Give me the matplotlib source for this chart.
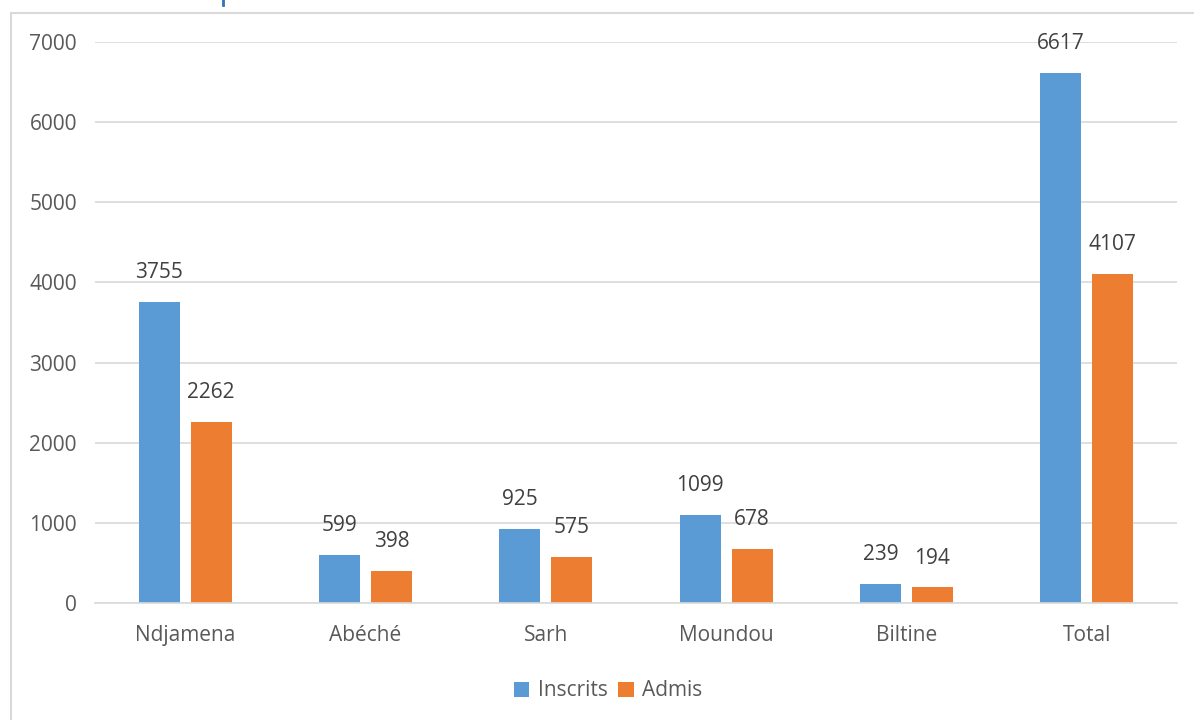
import matplotlib
matplotlib.use("Agg")
import matplotlib.pyplot as plt
from matplotlib.patches import Rectangle
from matplotlib.lines import Line2D
import numpy as np

categories = ["Ndjamena", "Abéché", "Sarh", "Moundou", "Biltine", "Total"]
inscrits = [3755, 599, 925, 1099, 239, 6617]
admis = [2262, 398, 575, 678, 194, 4107]
yticks = [0, 1000, 2000, 3000, 4000, 5000, 6000, 7000]

BLUE = "#5B9BD5"
ORANGE = "#ED7D31"
TEXT = "#595959"
GRID = "#D9D9D9"
FS = 15

plt.rcParams["font.family"] = ["Open Sans", "DejaVu Sans"]

fig = plt.figure(figsize=(11.94, 7.2), dpi=100)
ax = fig.add_axes([95 / 1194, 1 - 603 / 720, (1177 - 95) / 1194, (603 - 42) / 720])

# chart frame (extends past the right and bottom edges)
fig.add_artist(Rectangle((10.5 / 1194, -0.2), 1.5, 1 - 12.5 / 720 + 0.2,
                         transform=fig.transFigure, fill=False,
                         edgecolor=GRID, linewidth=1.5))
# stroke of the heading above the frame
fig.add_artist(Line2D([222.5 / 1194, 222.5 / 1194], [1 - 5 / 720, 1.0],
                      transform=fig.transFigure, color="#2E75B6", linewidth=2))

x = np.arange(len(categories))
w = 0.227
off = 0.144
b1 = ax.bar(x - off, inscrits, w, color=BLUE, label="Inscrits", zorder=3)
b2 = ax.bar(x + off, admis, w, color=ORANGE, label="Admis", zorder=3)

for bars, vals in ((b1, inscrits), (b2, admis)):
    for r, v in zip(bars, vals):
        ax.annotate(str(v), (r.get_x() + r.get_width() / 2, v),
                    xytext=(0, 21), textcoords="offset points",
                    ha="center", va="center", fontsize=FS, color="#404040")

ax.set_xlim(-0.5, len(categories) - 0.5)
ax.set_ylim(0, 7000)
ax.set_yticks(yticks)
ax.set_xticks(x)
ax.set_xticklabels(categories)
ax.tick_params(axis="both", length=0, labelsize=FS, labelcolor=TEXT)
ax.tick_params(axis="x", pad=16)
ax.tick_params(axis="y", pad=13)
ax.grid(axis="y", color=GRID, linewidth=1.2, zorder=0)
for s in ["top", "right", "left"]:
    ax.spines[s].set_visible(False)
ax.spines["bottom"].set_color(GRID)
ax.spines["bottom"].set_linewidth(1.2)
ax.spines["bottom"].set_zorder(4)

fig.legend(handles=[b1, b2], loc="center", bbox_to_anchor=(608 / 1194, 1 - 691 / 720),
           ncol=2, frameon=False, fontsize=FS, handlelength=0.75, handleheight=0.75,
           handletextpad=0.4, columnspacing=0.5, labelcolor=TEXT)

fig.savefig("out.png", dpi=100, facecolor="white")
